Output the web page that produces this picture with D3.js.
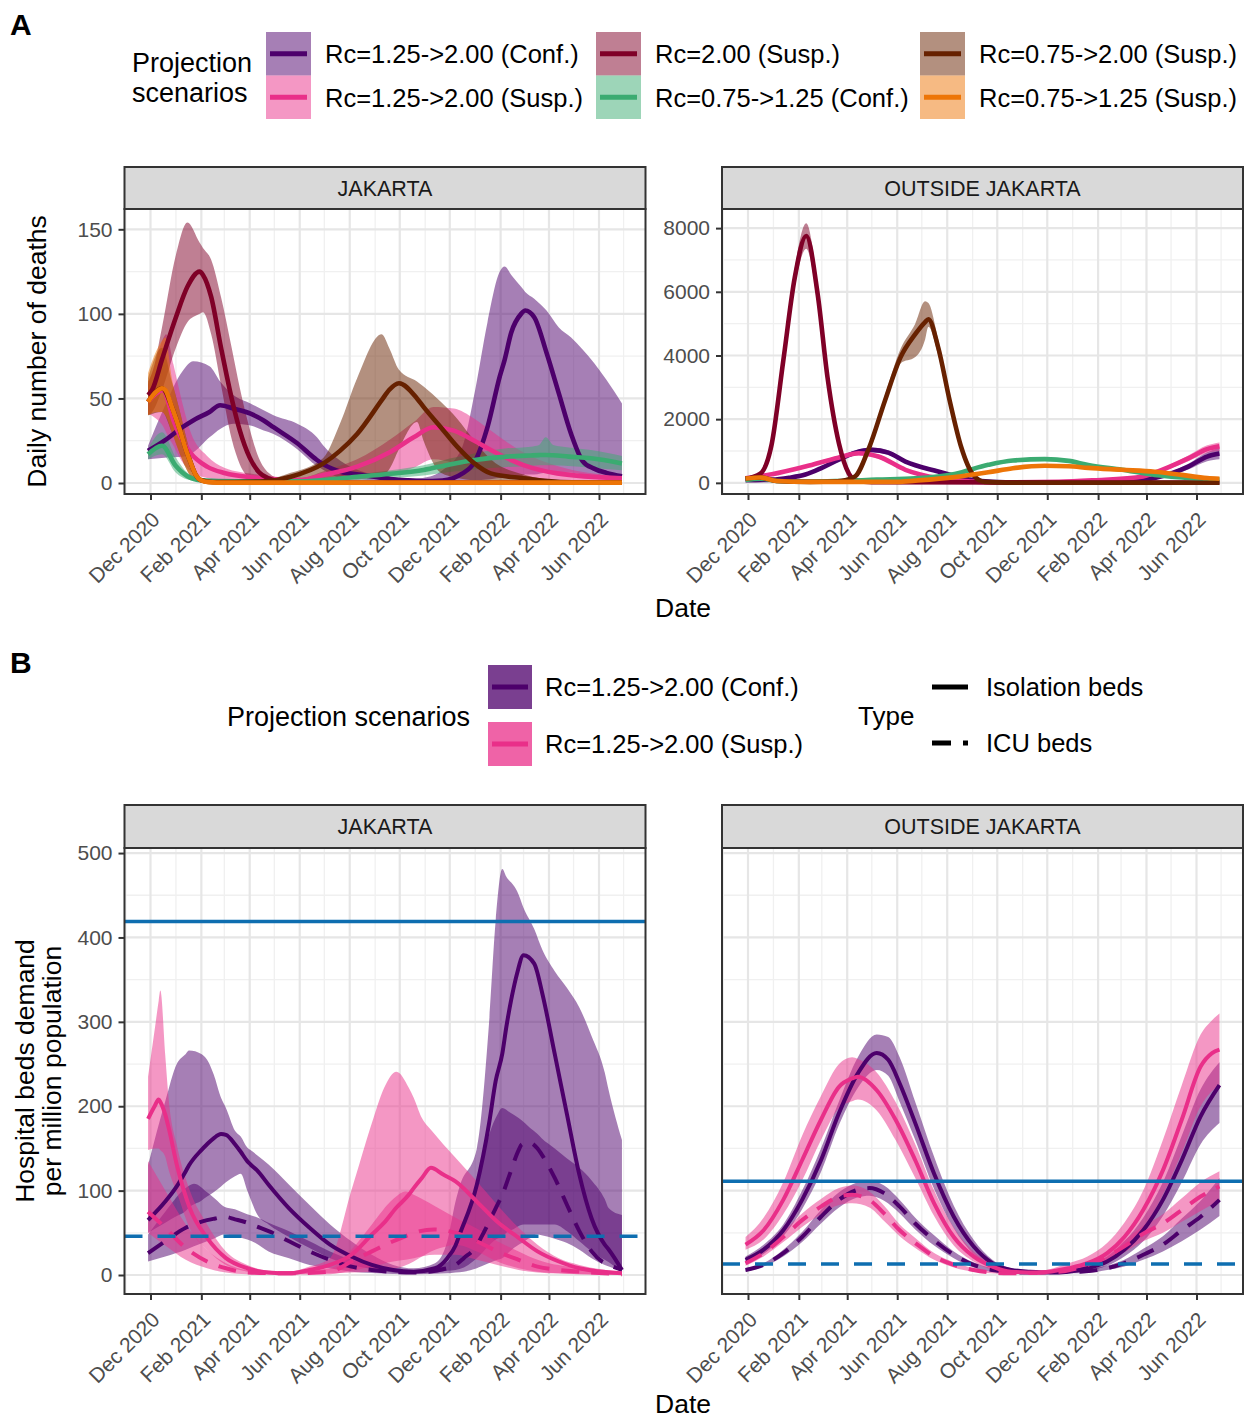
<!DOCTYPE html>
<html><head><meta charset="utf-8">
<script src="https://cdn.jsdelivr.net/npm/d3@7"></script>
<style>
body{margin:0;background:#fff}
svg{display:block}
text{font-family:"Liberation Sans",Arial,Helvetica,sans-serif}
</style>
</head><body>
<svg id="chart" width="1246" height="1419"></svg>
<script>
// ---------------- DATA ----------------
const xTickDates = ["2020-12-01","2021-02-01","2021-04-01","2021-06-01","2021-08-01","2021-10-01","2021-12-01","2022-02-01","2022-04-01","2022-06-01"];
const xTickLabels = ["Dec 2020","Feb 2021","Apr 2021","Jun 2021","Aug 2021","Oct 2021","Dec 2021","Feb 2022","Apr 2022","Jun 2022"];
const xMinorDates = ["2020-11-01","2021-01-01","2021-03-01","2021-05-01","2021-07-01","2021-09-01","2021-11-01","2022-01-01","2022-03-01","2022-05-01","2022-07-01"];

const scenarioLabels = ["Rc=1.25->2.00 (Conf.)","Rc=1.25->2.00 (Susp.)","Rc=2.00 (Susp.)","Rc=0.75->1.25 (Conf.)","Rc=0.75->2.00 (Susp.)","Rc=0.75->1.25 (Susp.)"];
const scenarioColors = ["#4d006b","#e92f89","#7f0027","#3bab71","#672100","#ed7507"];
const typeLabels = ["Isolation beds","ICU beds"];

const deathsYTicksJak = [0,50,100,150];
const deathsYTicksOut = [0,2000,4000,6000,8000];
const bedsYTicks = [0,100,200,300,400,500];
const bedCapacityJak = [419,46];   // isolation, ICU
const bedCapacityOut = [111,13];

// rows: [date, lower, median, upper]
// ---- A: deaths, Jakarta ----
const jakDeathsC125 = [
["2020-11-28",14,19,22],["2020-12-18",15,25,45],["2021-01-09",15.5,33,66],["2021-01-22",18,37,72],
["2021-02-11",27,42,69],["2021-02-24",32,46,60],["2021-03-12",35,44,52],["2021-04-02",34,41,47],
["2021-04-18",31,37,43],["2021-04-30",29,33,40],["2021-05-29",20,23.5,35],["2021-06-22",10,13.6,27],
["2021-06-30",7.7,11,22],["2021-07-21",3,6.7,13],["2021-08-15",2,4.8,7],["2021-08-31",1.5,3.7,5],
["2021-09-20",1.1,2.4,3.5],["2021-10-10",0.8,1.6,2.5],["2021-10-29",0.6,1.2,3],
["2021-11-22",0.6,1.5,7.5],["2021-12-16",1.2,5.5,21],["2022-01-01",1.5,13,55],["2022-01-16",2,33,95],
["2022-01-31",3,63,125],["2022-02-06",3,73,128],["2022-02-14",4,89,123],["2022-02-26",4,100,116],
["2022-03-03",5,102,113],["2022-03-14",5,98,109],["2022-03-29",6,77,102],["2022-04-13",6,53,92],
["2022-04-28",6,29,86],["2022-05-12",5,13,79],["2022-05-26",4,8.5,71],["2022-06-10",3,6,61],["2022-06-29",2,4,47]];
const jakDeathsS125 = [
["2020-11-28",41,48,58],["2020-12-08",38,53,73],["2020-12-17",33,55,86],["2020-12-20",30,52,88],
["2020-12-29",22,37,70],["2021-01-08",13,26,49],["2021-01-19",7,17.7,30],["2021-02-08",3,9.7,16],
["2021-03-01",1.5,5.9,9],["2021-04-10",0.8,3.1,5],["2021-06-02",0.5,1.8,3],["2021-06-30",1,4.7,7],
["2021-08-10",2,9.7,14],["2021-09-20",5,18.5,26],["2021-10-18",9,27,36],["2021-11-11",14,33,45],
["2021-12-06",12,31,44],["2021-12-31",9,25,38],["2022-01-20",6,19.5,31],["2022-03-01",2.5,10.6,18],
["2022-04-11",1,5.7,10],["2022-06-29",0.3,2.8,4]];
const jakDeathsR200 = [
["2020-11-28",40,52,60],["2020-12-03",42,55,65],["2020-12-15",55,73,92],["2021-01-01",80,98,135],
["2021-01-15",95,116,154],["2021-01-30",100,125,142],["2021-02-03",101,123,139],["2021-02-13",88,110,132],
["2021-02-25",58,80,110],["2021-03-10",26,50,80],["2021-03-20",11,31,56],["2021-04-01",3,15,32],
["2021-04-12",1,6.5,15],["2021-04-24",0.3,2.8,6],["2021-05-10",0.1,1,2],["2021-06-10",0,0.3,0.8],["2022-06-29",0,0.2,0.5]];
const jakDeathsC075 = [
["2020-11-28",14,17,20],["2020-12-15",17,22,30],["2021-01-01",6,10,15],["2021-01-15",2,4,6],
["2021-02-01",0.8,1.6,2.5],["2021-03-15",0.6,1,1.5],["2021-06-01",0.7,1,1.6],["2021-08-10",1.8,3.7,5],
["2021-09-20",3,5.5,7.5],["2021-10-30",4.5,7.7,10.5],["2021-12-01",6.5,11,14.5],["2021-12-31",8,13.6,17.5],
["2022-02-09",9.5,15.6,20.5],["2022-03-10",10,16.3,21.5],["2022-03-20",10.5,16.5,22.5],["2022-03-28",10.5,16.6,27],
["2022-04-06",10.5,16.4,22.5],["2022-04-25",10,15.6,21],["2022-05-22",9,14.6,19.5],["2022-06-29",7.5,11.6,16]];
const jakDeathsB075 = [
["2020-11-28",40,48,62],["2020-12-15",42,56,80],["2020-12-27",30,45,60],["2021-01-06",17,31,42],
["2021-01-13",9,20,28],["2021-01-19",4,12,17],["2021-01-25",1.5,5,8],["2021-01-31",0.4,1.8,3],
["2021-02-15",0,0.5,1],["2021-04-20",0.2,1,2],["2021-05-21",0.8,3.7,6],["2021-06-30",2,11.6,15],
["2021-07-20",3,19,35],["2021-08-10",4,29,62],["2021-09-09",4,49,88],["2021-09-18",8,55,80],
["2021-09-30",20,59,67],["2021-10-22",36,50,60],["2021-10-30",25,45,57],["2021-11-20",6,33,48],
["2021-12-10",3,21.5,38],["2021-12-31",1.5,11.6,25],["2022-01-20",0.8,5.7,14],["2022-03-01",0.2,2.8,5],
["2022-04-15",0,0.6,1.5],["2022-06-29",0,0.2,0.5]];
const jakDeathsS075 = [
["2020-11-28",40,48,65],["2020-12-08",42,54,78],["2020-12-15",42,56,84],["2020-12-19",40,55,86],
["2020-12-27",30,45,62],["2021-01-06",17,31,42],["2021-01-13",9,20,28],["2021-01-19",4,12,17],
["2021-01-25",1.5,5,8],["2021-01-31",0.4,1.8,3],["2021-02-10",0,0.5,1],["2021-03-01",0,0.2,0.5],["2022-06-29",0,0.2,0.5]];

// ---- A: deaths, outside Jakarta ----
const outDeathsC125 = [
["2020-11-28",60,80,100],["2020-12-30",85,100,115],["2021-01-20",140,160,180],["2021-02-09",230,260,290],
["2021-03-01",430,470,510],["2021-03-21",665,720,775],["2021-04-11",880,950,1020],["2021-05-01",960,1035,1110],
["2021-05-21",880,950,1020],["2021-06-11",615,669,720],["2021-07-21",320,356,390],["2021-08-11",185,210,235],
["2021-08-31",80,94,110],["2021-09-25",20,30,40],["2021-11-01",5,10,15],["2022-01-15",5,12,20],
["2022-03-05",20,30,40],["2022-04-11",125,150,175],["2022-05-22",420,510,600],["2022-06-14",680,826,960],["2022-06-29",740,920,1100]];
const outDeathsS125 = [
["2020-11-28",120,140,160],["2020-12-30",245,270,295],["2021-02-09",470,515,560],["2021-03-21",730,790,850],
["2021-04-15",860,930,1000],["2021-05-09",760,826,890],["2021-06-11",370,410,450],["2021-07-21",125,146,165],
["2021-08-31",30,45,60],["2021-10-01",8,15,22],["2021-12-15",15,30,45],["2022-01-27",60,80,100],
["2022-03-28",170,200,230],["2022-04-11",280,320,360],["2022-05-22",680,770,860],["2022-06-14",940,1060,1180],["2022-06-29",1000,1150,1270]];
const outDeathsR200 = [
["2020-11-28",110,125,140],["2020-12-16",265,290,315],["2020-12-30",1150,1230,1310],["2021-01-13",3600,3830,4050],
["2021-01-27",6150,6440,6750],["2021-02-10",7350,7750,8150],["2021-02-24",5600,5920,6250],["2021-03-08",3100,3310,3500],
["2021-03-22",1130,1230,1330],["2021-04-03",250,290,330],["2021-04-12",60,80,100],["2021-05-01",10,20,30],["2022-06-29",5,10,15]];
const outDeathsC075 = [
["2020-11-28",70,90,110],["2020-12-16",110,130,150],["2021-01-05",45,60,75],["2021-02-15",30,40,50],
["2021-03-20",40,55,70],["2021-05-07",85,100,115],["2021-06-23",120,140,160],["2021-08-10",250,280,310],
["2021-09-20",520,565,610],["2021-10-20",650,700,750],["2021-11-28",695,745,795],["2021-12-27",645,690,735],
["2022-01-20",525,560,595],["2022-03-02",380,410,440],["2022-04-11",225,250,275],["2022-05-14",150,170,190],
["2022-06-14",105,120,135],["2022-06-29",90,105,120]];
const outDeathsB075 = [
["2020-11-28",115,135,155],["2020-12-16",150,170,190],["2021-01-05",45,60,75],["2021-02-15",20,30,40],
["2021-03-20",30,50,70],["2021-04-10",160,190,220],["2021-04-28",1050,1125,1200],["2021-05-17",2450,2580,2750],
["2021-06-05",3750,3940,4200],["2021-06-23",3950,4670,5000],["2021-07-05",4500,5050,5700],["2021-07-09",4900,5140,5650],
["2021-07-21",4000,4250,4500],["2021-08-04",2450,2580,2720],["2021-08-18",1050,1125,1200],["2021-09-02",210,240,270],
["2021-09-16",15,30,45],["2021-10-15",0,5,10],["2022-06-29",0,3,6]];
const outDeathsS075 = [
["2020-11-28",115,135,155],["2020-12-16",150,170,190],["2021-01-05",45,60,75],["2021-02-15",20,30,40],
["2021-06-01",20,30,40],["2021-06-23",55,70,85],["2021-08-10",160,180,200],["2021-09-20",305,330,355],
["2021-10-20",430,460,490],["2021-11-28",500,535,570],["2021-12-27",485,520,555],["2022-01-20",440,470,500],
["2022-03-02",385,410,435],["2022-04-11",325,350,375],["2022-05-14",230,250,270],["2022-06-14",135,150,165],["2022-06-29",115,130,145]];

// ---- B: hospital beds per million, Jakarta ----
const jakBedsC125Iso = [
["2020-11-28",50,65,130],["2020-12-19",62,87,206],["2021-01-02",70,105,250],["2021-01-13",76,123,262],
["2021-01-17",80,130,266],["2021-02-01",88,148,262],["2021-02-08",93,155,255],["2021-02-16",98,162,238],
["2021-02-25",105,167,210],["2021-03-03",110,166,198],["2021-03-14",117,155,171],["2021-03-21",120,146,164],
["2021-03-29",100,135,151],["2021-04-02",90,131,148],["2021-04-10",72,124,142],["2021-04-24",60,107,131],
["2021-05-19",45,79,107],["2021-06-13",32,56,83],["2021-07-08",20,36,60],["2021-08-03",12,22,40],
["2021-08-28",7,12,24],["2021-09-23",3,6,12],["2021-10-18",2,4,8],["2021-11-13",3,8,14],
["2021-11-28",5,20,40],["2021-12-08",6,35,87],["2021-12-13",7,48,105],["2022-01-03",20,107,150],
["2022-01-18",35,180,300],["2022-01-26",42,230,420],["2022-02-03",45,262,481],["2022-02-08",50,294,472],
["2022-02-18",55,345,460],["2022-02-21",57,357,455],["2022-03-01",60,379,435],["2022-03-14",60,369,410],
["2022-03-24",60,333,385],["2022-04-08",60,262,360],["2022-04-23",52,190,340],["2022-05-08",40,119,317],
["2022-05-23",28,67,283],["2022-06-08",18,36,240],["2022-06-13",15,30,218],["2022-06-29",3,6,160]];
const jakBedsC125Icu = [
["2020-11-28",16,26,48],["2020-12-19",22,40,75],["2021-01-13",30,56,103],["2021-01-23",34,60,108],
["2021-02-08",40,65,98],["2021-02-18",44,67,90],["2021-03-01",48,69,81],["2021-03-14",46,66,78],
["2021-03-29",42,62,72],["2021-04-08",38,58,69],["2021-04-24",28,52,62],["2021-05-19",20,40,52],
["2021-06-13",12,28,40],["2021-07-08",8,18,28],["2021-08-03",4,10,18],["2021-08-28",2.5,6,12],
["2021-10-18",1,3,5],["2021-11-28",2,8,15],["2021-12-08",3,12,36],["2021-12-18",4,20,60],
["2022-01-03",8,35,107],["2022-01-08",10,44,130],["2022-01-28",18,83,190],["2022-02-03",20,95,198],
["2022-02-12",28,119,193],["2022-02-23",36,148,186],["2022-02-27",38,155,183],["2022-03-08",44,157,175],
["2022-03-18",48,150,167],["2022-03-23",47,143,162],["2022-04-08",43,115,150],["2022-04-23",38,83,138],
["2022-05-08",30,52,127],["2022-05-23",20,28,112],["2022-06-08",12,14,90],["2022-06-13",10,12,79],["2022-06-29",4,6,71]];
const jakBedsS125Iso = [
["2020-11-28",148,185,235],["2020-12-06",150,200,290],["2020-12-11",150,208,325],["2020-12-13",148,205,337],
["2020-12-19",140,190,260],["2020-12-23",125,175,210],["2021-01-03",95,127,150],["2021-01-18",55,79,100],
["2021-02-08",30,44,60],["2021-03-03",12,20,28],["2021-03-29",4,8,12],["2021-04-24",1,3,5],
["2021-05-19",0.8,2,4],["2021-06-13",1.5,6,10],["2021-07-08",2,12,20],["2021-08-03",3,24,100],
["2021-08-28",4,48,180],["2021-09-12",6,62,222],["2021-09-27",8,80,241],["2021-10-12",13,95,222],
["2021-10-18",16,103,210],["2021-10-28",22,115,186],["2021-11-08",28,127,172],["2021-11-23",33,119,155],
["2021-12-08",36,111,139],["2022-01-03",28,87,111],["2022-01-28",16,63,83],["2022-02-23",8,44,56],
["2022-03-18",4,28,36],["2022-04-13",2,16,20],["2022-05-08",1,8,12],["2022-06-29",0.5,2,4]];
const jakBedsS125Icu = [
["2020-11-28",50,75,135],["2020-12-19",35,56,100],["2021-01-13",18,32,60],["2021-02-08",8,16,30],
["2021-03-03",3,8,14],["2021-03-29",1,3,6],["2021-05-15",0.5,2,4],["2021-07-08",1,4,8],
["2021-08-03",5,16,30],["2021-08-28",10,28,60],["2021-09-23",16,40,90],["2021-10-08",18,46,99],
["2021-10-18",20,50,95],["2021-11-12",24,54,82],["2021-12-08",24,50,68],["2022-01-03",18,40,55],
["2022-01-28",12,28,40],["2022-02-23",6,18,28],["2022-03-18",3,10,18],["2022-05-08",1,4,8],["2022-06-29",0.3,1,3]];

// ---- B: hospital beds per million, outside Jakarta ----
const outBedsC125Iso = [
["2020-11-28",14,18,22],["2020-12-20",25,30,36],["2021-01-13",46,53,60],["2021-02-05",78,89,100],
["2021-02-28",122,136,150],["2021-03-22",178,192,206],["2021-04-14",222,239,258],["2021-05-07",243,263,285],
["2021-05-21",236,255,282],["2021-06-04",205,227,258],["2021-06-23",160,180,205],["2021-07-16",102,120,140],
["2021-08-09",55,69,82],["2021-09-02",25,34,42],["2021-09-25",10,14,18],["2021-10-18",4,6,8],
["2021-11-10",2.5,4,5.5],["2021-12-03",2,3,4.5],["2021-12-27",2.5,4,6],["2022-01-19",5,8,12],
["2022-02-12",11,16,22],["2022-03-05",22,30,40],["2022-03-28",40,53,68],["2022-04-21",70,89,110],
["2022-05-14",110,136,165],["2022-06-06",155,188,220],["2022-06-29",180,225,252]];
const outBedsS125Iso = [
["2020-11-28",30,36,45],["2020-12-20",42,53,68],["2021-01-13",72,89,110],["2021-02-05",112,136,165],
["2021-02-28",160,184,212],["2021-03-22",198,223,250],["2021-04-07",206,233,258],["2021-04-14",208,235,256],
["2021-05-07",195,219,240],["2021-05-30",160,184,205],["2021-06-23",115,136,155],["2021-07-16",70,85,100],
["2021-08-09",35,45,56],["2021-09-02",16,22,28],["2021-09-25",6,10,14],["2021-10-18",2,4,6],
["2021-11-20",1.5,3,5],["2021-12-27",4,8,14],["2022-01-19",8,14,22],["2022-02-12",16,26,38],
["2022-03-05",30,45,62],["2022-03-28",55,77,100],["2022-04-21",95,124,160],["2022-05-14",145,184,225],
["2022-06-06",200,247,285],["2022-06-20",218,263,302],["2022-06-29",225,267,310]];
const outBedsC125Icu = [
["2020-11-28",4,6,8],["2020-12-20",10,12,14],["2021-01-13",22,26,30],["2021-02-05",39,45,51],
["2021-02-28",61,69,77],["2021-03-22",80,89,98],["2021-04-14",92,101,110],["2021-04-28",94,103,112],
["2021-05-16",88,97,106],["2021-06-04",73,81,89],["2021-06-23",54,61,68],["2021-07-16",35,41,47],
["2021-08-09",20,24,28],["2021-09-02",9,12,15],["2021-09-25",4,6,8],["2021-11-01",2,3,4],
["2022-01-10",2,4,6],["2022-02-12",6,8,11],["2022-03-05",10,14,18],["2022-03-28",18,24,31],
["2022-04-21",28,36,46],["2022-05-14",40,53,67],["2022-06-06",54,69,88],["2022-06-29",70,89,115]];
const outBedsS125Icu = [
["2020-11-28",11,14,17],["2020-12-20",22,26,30],["2021-01-13",39,45,51],["2021-02-05",57,65,73],
["2021-02-28",72,81,90],["2021-03-22",83,93,103],["2021-04-07",85,95,106],["2021-04-28",80,89,99],
["2021-05-16",64,73,82],["2021-06-04",46,53,60],["2021-06-23",32,38,44],["2021-07-16",18,22,26],
["2021-08-09",9,12,15],["2021-09-02",4,6,8],["2021-10-15",1.5,2,3],["2021-12-15",2.5,4,6],
["2022-01-19",9,12,15],["2022-02-12",17,22,27],["2022-03-05",27,34,41],["2022-03-28",40,49,58],
["2022-04-21",50,61,72],["2022-05-14",63,77,91],["2022-06-06",76,93,110],["2022-06-29",88,105,123]];

// ---------------- DRAWING ----------------
const parse = d3.timeParse("%Y-%m-%d");
const svg = d3.select("#chart");
const FONT_TICK = 21, FONT_STRIP = 21.5, FONT_TITLE = 26.5, FONT_LEG = 25.5, FONT_LEGTITLE = 27;
const BLUE = "#0e6eb0";
const toRows = a => a.map(r => ({date: parse(r[0]), lo: r[1], mid: r[2], hi: r[3]}));

const panels = [
  {id:"aj", x0:124.5, x1:645.5, stripTop:167, top:209, bottom:494, yDomain:[-6.5,162], yTicks:deathsYTicksJak, yMinor:[25,75,125], yAxis:true, title:"JAKARTA",
   series:[jakDeathsC125,jakDeathsS125,jakDeathsR200,jakDeathsC075,jakDeathsB075,jakDeathsS075].map((d,i)=>({data:d,color:scenarioColors[i],dash:null,w:4.6}))},
  {id:"ao", x0:722, x1:1243, stripTop:167, top:209, bottom:494, yDomain:[-350,8600], yTicks:deathsYTicksOut, yMinor:[1000,3000,5000,7000], yAxis:true, title:"OUTSIDE JAKARTA",
   series:[outDeathsC125,outDeathsS125,outDeathsR200,outDeathsC075,outDeathsB075,outDeathsS075].map((d,i)=>({data:d,color:scenarioColors[i],dash:null,w:4.6}))},
  {id:"bj", x0:124.5, x1:645.5, stripTop:805, top:848, bottom:1294, yDomain:[-22.5,506], yTicks:bedsYTicks, yMinor:[50,150,250,350,450], yAxis:true, title:"JAKARTA",
   hlines:bedCapacityJak,
   series:[{data:jakBedsC125Iso,color:scenarioColors[0],dash:null,w:4},{data:jakBedsC125Icu,color:scenarioColors[0],dash:"18,12",w:4},
           {data:jakBedsS125Iso,color:scenarioColors[1],dash:null,w:4},{data:jakBedsS125Icu,color:scenarioColors[1],dash:"18,12",w:4}]},
  {id:"bo", x0:722, x1:1243, stripTop:805, top:848, bottom:1294, yDomain:[-22.5,506], yTicks:bedsYTicks, yMinor:[50,150,250,350,450], yAxis:false, title:"OUTSIDE JAKARTA",
   hlines:bedCapacityOut,
   series:[{data:outBedsC125Iso,color:scenarioColors[0],dash:null,w:4},{data:outBedsC125Icu,color:scenarioColors[0],dash:"18,12",w:4},
           {data:outBedsS125Iso,color:scenarioColors[1],dash:null,w:4},{data:outBedsS125Icu,color:scenarioColors[1],dash:"18,12",w:4}]}
];

panels.forEach(p => {
  const g = svg.append("g");
  const x = d3.scaleTime().domain([parse("2020-12-01"), parse("2022-06-01")]).range([p.x0+26, p.x0+474.5]);
  const y = d3.scaleLinear().domain(p.yDomain).range([p.bottom, p.top]);
  const W = p.x1 - p.x0, H = p.bottom - p.top;
  g.append("rect").attr("x",p.x0).attr("y",p.top).attr("width",W).attr("height",H).attr("fill","#fff");
  const grid = g.append("g");
  xMinorDates.map(parse).forEach(d => { const xx = x(d); if (xx > p.x0 && xx < p.x1)
    grid.append("line").attr("x1",xx).attr("x2",xx).attr("y1",p.top).attr("y2",p.bottom).attr("stroke","#f0f0f0").attr("stroke-width",1.3); });
  p.yMinor.forEach(v => grid.append("line").attr("x1",p.x0).attr("x2",p.x1).attr("y1",y(v)).attr("y2",y(v)).attr("stroke","#f0f0f0").attr("stroke-width",1.3));
  xTickDates.map(parse).forEach(d => grid.append("line").attr("x1",x(d)).attr("x2",x(d)).attr("y1",p.top).attr("y2",p.bottom).attr("stroke","#e6e6e6").attr("stroke-width",2.2));
  p.yTicks.forEach(v => grid.append("line").attr("x1",p.x0).attr("x2",p.x1).attr("y1",y(v)).attr("y2",y(v)).attr("stroke","#e6e6e6").attr("stroke-width",2.2));

  const cid = "clip-" + p.id;
  svg.append("clipPath").attr("id",cid).append("rect").attr("x",p.x0).attr("y",p.top).attr("width",W).attr("height",H);
  const dg = g.append("g").attr("clip-path",`url(#${cid})`);
  const area = d3.area().x(d=>x(d.date)).y0(d=>y(d.lo)).y1(d=>y(d.hi)).curve(d3.curveMonotoneX);
  const line = d3.line().x(d=>x(d.date)).y(d=>y(d.mid)).curve(d3.curveMonotoneX);
  p.series.forEach(s => dg.append("path").datum(toRows(s.data)).attr("d",area).attr("fill",s.color).attr("fill-opacity",0.5));
  p.series.forEach(s => dg.append("path").datum(toRows(s.data)).attr("d",line).attr("fill","none")
     .attr("stroke",s.color).attr("stroke-width",s.w).attr("stroke-linejoin","round").attr("stroke-dasharray",s.dash));
  if (p.hlines) {
    dg.append("line").attr("x1",p.x0).attr("x2",p.x1).attr("y1",y(p.hlines[0])).attr("y2",y(p.hlines[0])).attr("stroke",BLUE).attr("stroke-width",3.5);
    dg.append("line").attr("x1",p.x0).attr("x2",p.x1).attr("y1",y(p.hlines[1])).attr("y2",y(p.hlines[1])).attr("stroke",BLUE).attr("stroke-width",3.5).attr("stroke-dasharray","18,15");
  }
  g.append("rect").attr("x",p.x0).attr("y",p.top).attr("width",W).attr("height",H).attr("fill","none").attr("stroke","#333").attr("stroke-width",2);
  g.append("rect").attr("x",p.x0).attr("y",p.stripTop).attr("width",W).attr("height",p.top-p.stripTop).attr("fill","#d9d9d9").attr("stroke","#333").attr("stroke-width",2);
  g.append("text").attr("x",(p.x0+p.x1)/2).attr("y",(p.stripTop+p.top)/2).attr("dy","0.36em").attr("text-anchor","middle")
    .attr("font-size",FONT_STRIP).attr("fill","#1a1a1a").text(p.title);
  const xa = g.append("g").attr("transform",`translate(0,${p.bottom})`)
    .call(d3.axisBottom(x).tickValues(xTickDates.map(parse)).tickFormat((d,i)=>xTickLabels[i]).tickSize(6).tickSizeOuter(0));
  xa.select(".domain").remove();
  xa.selectAll(".tick line").attr("stroke","#333").attr("stroke-width",2);
  xa.selectAll(".tick text").attr("x",0).attr("y",0).attr("dy",0).attr("transform","translate(10,27) rotate(-45)")
    .style("text-anchor","end").attr("font-size",FONT_TICK).attr("font-family",null).attr("fill","#4d4d4d");
  if (p.yAxis) {
    const ya = g.append("g").attr("transform",`translate(${p.x0},0)`)
      .call(d3.axisLeft(y).tickValues(p.yTicks).tickFormat(d3.format("d")).tickSize(6).tickPadding(6).tickSizeOuter(0));
    ya.select(".domain").remove();
    ya.selectAll(".tick line").attr("stroke","#333").attr("stroke-width",2);
    ya.selectAll(".tick text").attr("font-size",FONT_TICK).attr("font-family",null).attr("fill","#4d4d4d");
  }
});

// axis titles
svg.append("text").attr("transform","translate(46,351.5) rotate(-90)").attr("text-anchor","middle").attr("font-size",FONT_TITLE).attr("fill","#000").text("Daily number of deaths");
svg.append("text").attr("x",683).attr("y",617).attr("text-anchor","middle").attr("font-size",FONT_TITLE).attr("fill","#000").text("Date");
svg.append("text").attr("transform","translate(34,1071) rotate(-90)").attr("text-anchor","middle").attr("font-size",FONT_TITLE).attr("fill","#000").text("Hospital beds demand");
svg.append("text").attr("transform","translate(61,1071) rotate(-90)").attr("text-anchor","middle").attr("font-size",FONT_TITLE).attr("fill","#000").text("per million population");
svg.append("text").attr("x",683).attr("y",1413).attr("text-anchor","middle").attr("font-size",FONT_TITLE).attr("fill","#000").text("Date");

// panel tags
svg.append("text").attr("x",10).attr("y",35).attr("font-size",30).attr("font-weight","bold").text("A");
svg.append("text").attr("x",10).attr("y",673).attr("font-size",30).attr("font-weight","bold").text("B");

// ---- legend A ----
const legA = svg.append("g");
legA.append("text").attr("x",132).attr("y",62).attr("dy","0.36em").attr("font-size",FONT_LEGTITLE).text("Projection");
legA.append("text").attr("x",132).attr("y",92).attr("dy","0.36em").attr("font-size",FONT_LEGTITLE).text("scenarios");
const legCols = [266, 596, 920];
scenarioLabels.forEach((lab,i) => {
  const col = Math.floor(i/2), row = i%2;
  const kx = legCols[col], ky = row === 0 ? 32 : 75.5;
  legA.append("rect").attr("x",kx).attr("y",ky).attr("width",45).attr("height",43.5).attr("fill",scenarioColors[i]).attr("fill-opacity",0.5);
  legA.append("line").attr("x1",kx+4).attr("x2",kx+41).attr("y1",ky+21.75).attr("y2",ky+21.75).attr("stroke",scenarioColors[i]).attr("stroke-width",5);
  legA.append("text").attr("x",kx+59).attr("y",ky+22).attr("dy","0.36em").attr("font-size",FONT_LEG).text(lab);
});

// ---- legend B ----
const legB = svg.append("g");
legB.append("text").attr("x",227).attr("y",716).attr("dy","0.36em").attr("font-size",FONT_LEGTITLE).text("Projection scenarios");
[0,1].forEach(i => {
  const ky = i === 0 ? 665 : 722;
  legB.append("rect").attr("x",488).attr("y",ky).attr("width",44).attr("height",44).attr("fill",scenarioColors[i]).attr("fill-opacity",0.5);
  legB.append("rect").attr("x",488).attr("y",ky).attr("width",44).attr("height",44).attr("fill",scenarioColors[i]).attr("fill-opacity",0.5);
  legB.append("line").attr("x1",492).attr("x2",528).attr("y1",ky+22).attr("y2",ky+22).attr("stroke",scenarioColors[i]).attr("stroke-width",5);
  legB.append("text").attr("x",545).attr("y",ky+22).attr("dy","0.36em").attr("font-size",FONT_LEG).text(scenarioLabels[i]);
});
legB.append("text").attr("x",858).attr("y",716).attr("dy","0.36em").attr("font-size",26).text("Type");
typeLabels.forEach((lab,i) => {
  const ky = i === 0 ? 687 : 743;
  legB.append("line").attr("x1",932).attr("x2",968).attr("y1",ky).attr("y2",ky).attr("stroke","#000").attr("stroke-width",5)
    .attr("stroke-dasharray", i === 0 ? null : "19,12");
  legB.append("text").attr("x",986).attr("y",ky).attr("dy","0.36em").attr("font-size",FONT_LEG).text(lab);
});
</script>
</body></html>
